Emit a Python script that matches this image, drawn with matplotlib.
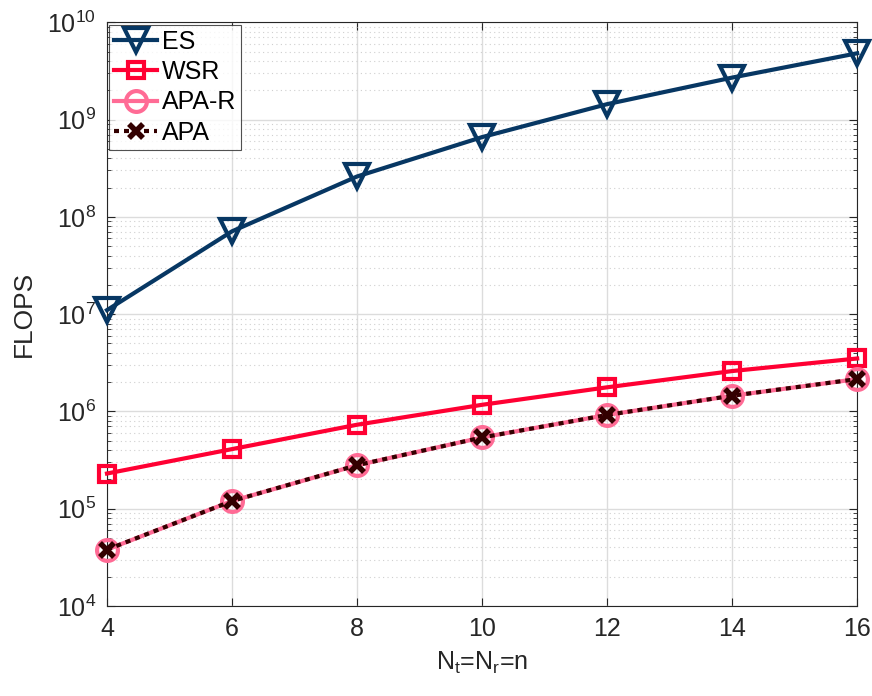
import numpy as np
import matplotlib
matplotlib.use("Agg")
import matplotlib.pyplot as plt

# data
n = [4, 6, 8, 10, 12, 14, 16]
flops_es = [1.1e7, 7.1e7, 2.6e8, 6.6e8, 1.44e9, 2.7e9, 4.8e9]
flops_wsr = [2.3e5, 4.1e5, 7.3e5, 1.17e6, 1.77e6, 2.6e6, 3.5e6]
flops_apar = [3.8e4, 1.2e5, 2.8e5, 5.4e5, 9.2e5, 1.45e6, 2.15e6]
flops_apa = [3.8e4, 1.2e5, 2.8e5, 5.4e5, 9.2e5, 1.45e6, 2.15e6]

plt.rcParams['font.family'] = ['Liberation Sans', 'DejaVu Sans']

fig = plt.figure(figsize=(8.72, 6.96), dpi=100)
ax = fig.add_axes([0.1227, 0.1293, 0.8603, 0.8387])

ax.semilogy(n, flops_es, color='#073763', lw=3, marker='v', ms=17, mew=3,
            mfc='none', label='ES', clip_on=False, zorder=3)
ax.semilogy(n, flops_wsr, color='#ff0033', lw=3, marker='s', ms=11, mew=3,
            mfc='none', label='WSR', clip_on=False, zorder=3)
ax.semilogy(n, flops_apar, color='#ff6b95', lw=3, marker='o', ms=15, mew=3,
            mfc='none', label='APA-R', clip_on=False, zorder=3)
ax.semilogy(n, flops_apa, color='#330000', lw=3, ls=(0, (1.2, 1.2)),
            marker='x', ms=10, mew=4, label='APA', clip_on=False, zorder=4)

ax.set_xlim(4, 16)
ax.set_ylim(1e4, 1e10)
ax.set_xticks([4, 6, 8, 10, 12, 14, 16])
ax.set_yticks([1e4, 1e5, 1e6, 1e7, 1e8, 1e9, 1e10])

ax.grid(True, which='major', color='#dcdcdc', lw=1)
ax.grid(True, which='minor', axis='y', color='#cfcfcf', lw=0.8, ls=(0, (1, 3)))
ax.set_axisbelow(True)

ax.tick_params(which='both', direction='in', top=True, right=True,
               colors='#262626', labelsize=18)
ax.tick_params(which='major', length=6, pad=8)
ax.tick_params(which='minor', length=3)
for s in ax.spines.values():
    s.set_color('#262626')
    s.set_linewidth(0.8)

ax.set_xlabel(r'N$_\mathregular{t}$=N$_\mathregular{r}$=n', fontsize=18,
              color='#262626', labelpad=6)
ax.set_ylabel('FLOPS', fontsize=19, color='#262626', labelpad=8)

leg = ax.legend(loc='upper left', fontsize=18, frameon=True, fancybox=False,
                borderaxespad=0.1, handlelength=1.7, handletextpad=0.2,
                borderpad=0.2, labelspacing=0.25)
leg.get_frame().set_edgecolor('#262626')
leg.get_frame().set_linewidth(0.8)

plt.savefig("out.png", dpi=100)
